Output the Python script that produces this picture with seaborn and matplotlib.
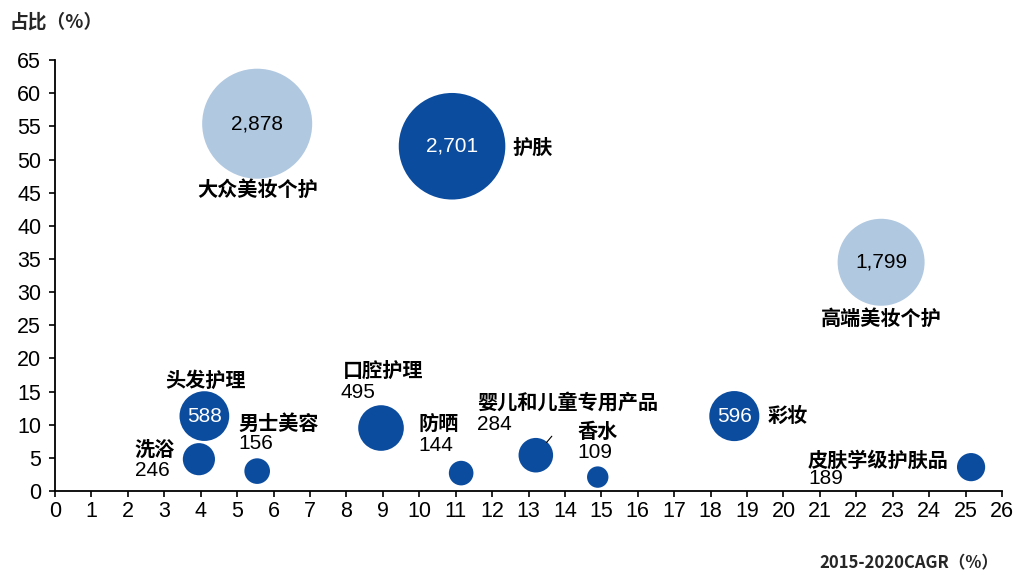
import matplotlib
matplotlib.use("Agg")
import matplotlib.pyplot as plt
import seaborn as sns
import pandas as pd

# ---- data ----
categories = ["大众美妆个护", "护肤", "高端美妆个护", "头发护理", "洗浴", "男士美容",
              "口腔护理", "防晒", "婴儿和儿童专用产品", "香水", "彩妆", "皮肤学级护肤品"]
cagr = [5.55, 10.9, 22.68, 4.1, 3.95, 5.55, 8.95, 11.15, 13.2, 14.9, 18.65, 25.15]
share = [55.4, 52.0, 34.5, 11.3, 4.8, 3.0, 9.5, 2.7, 5.4, 2.1, 11.3, 3.6]
market = [2878, 2701, 1799, 588, 246, 156, 495, 144, 284, 109, 596, 189]
group = ["总体", "品类", "总体", "品类", "品类", "品类", "品类", "品类", "品类", "品类", "品类", "品类"]
x_ticks = list(range(0, 27))
y_ticks = list(range(0, 66, 5))

# label layout (pixel offsets from bubble center): name, number
layout = {
    "大众美妆个护": dict(name=(0, 66, "center"), num="inside"),
    "护肤": dict(name=(60, 1, "left"), num="inside"),
    "高端美妆个护": dict(name=(0, 56, "center"), num="inside"),
    "头发护理": dict(name=(1, -36, "center"), num="inside"),
    "洗浴": dict(name=(-24, -10, "right"), num=(-29, 11, "right")),
    "男士美容": dict(name=(-19, -48, "left"), num=(-19, -28, "left")),
    "口腔护理": dict(name=(-38, -58, "left"), num=(-41, -36, "left")),
    "防晒": dict(name=(-43, -49, "left"), num=(-43, -28, "left")),
    "婴儿和儿童专用产品": dict(name=(-59, -53, "left"), num=(-59, -31, "left")),
    "香水": dict(name=(-20, -46, "left"), num=(-20, -25, "left")),
    "彩妆": dict(name=(33, -1, "left"), num="inside"),
    "皮肤学级护肤品": dict(name=(-163, -7, "left"), num=(-163, 11, "left")),
}

df = pd.DataFrame(dict(cat=categories, x=cagr, y=share, v=market, g=group))

sns.set_theme(style="white")
plt.rcParams["font.family"] = ["Liberation Sans", "Noto Sans CJK SC", "DejaVu Sans"]

fig = plt.figure(figsize=(10.23, 5.72), dpi=100)
ax = fig.add_axes([0.0538, 0.1416, 0.9257, 0.7534])

light = "#B0C8E0"
dark = "#0B4C9F"
k = 2.18
sns.scatterplot(data=df, x="x", y="y", size="v", hue="g",
                palette={"总体": light, "品类": dark},
                sizes=(min(market) * k, max(market) * k),
                size_norm=(min(market), max(market)),
                linewidth=0, alpha=1, legend=False, ax=ax, zorder=3)

ax.set_xlim(0, 26)
ax.set_ylim(0, 65)
ax.set_xticks(x_ticks)
ax.set_yticks(y_ticks)
ax.set_xlabel("")
ax.set_ylabel("")
for s in ["top", "right"]:
    ax.spines[s].set_visible(False)
for s in ["left", "bottom"]:
    ax.spines[s].set_color("black")
    ax.spines[s].set_linewidth(1.3)
ax.tick_params(axis="both", direction="out", length=4, width=1.2, color="black",
               labelsize=15.5, labelcolor="black", left=True, bottom=True)
ax.tick_params(axis="y", pad=6)
ax.tick_params(axis="x", pad=3)

cjk = ["Noto Sans CJK SC", "DejaVu Sans"]
num_font = ["Liberation Sans", "DejaVu Sans"]
pt = 0.72
for c, x, y, v, g in zip(categories, cagr, share, market, group):
    L = layout[c]
    dx, dy, ha = L["name"]
    ax.annotate(c, (x, y), xytext=(dx * pt, -dy * pt), textcoords="offset points",
                ha=ha, va="center", fontsize=14.5, fontweight="bold",
                family=cjk, color="black", zorder=5)
    txt = f"{v:,}"
    if L["num"] == "inside":
        col = "black" if g == "总体" else "white"
        ax.annotate(txt, (x, y), xytext=(0, 0), textcoords="offset points",
                    ha="center", va="center", fontsize=15, family=num_font,
                    color=col, zorder=5)
    else:
        dx, dy, ha = L["num"]
        ax.annotate(txt, (x, y), xytext=(dx * pt, -dy * pt), textcoords="offset points",
                    ha=ha, va="center", fontsize=15, family=num_font,
                    color="black", zorder=5)

# leader line for 婴儿和儿童专用产品
i = categories.index("婴儿和儿童专用产品")
ax.annotate("", (cagr[i], share[i]), xytext=(16 * pt, 19 * pt), textcoords="offset points",
            xycoords="data",
            arrowprops=dict(arrowstyle="-", color="black", lw=0.8,
                            shrinkA=0, shrinkB=12))

fig.text(10 / 1023, 1 - 22 / 572, "占比（%）", ha="left", va="center",
         fontsize=13.5, fontweight="bold", family=cjk)
fig.text(998 / 1023, 1 - 563 / 572, "2015-2020CAGR（%）", ha="right", va="center",
         fontsize=12, fontweight="bold", family=cjk)

fig.savefig("out.png", dpi=100)
